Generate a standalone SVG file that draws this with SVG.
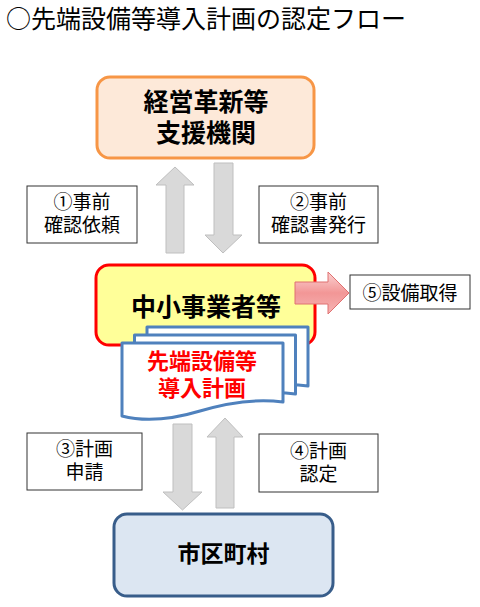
<svg xmlns="http://www.w3.org/2000/svg" width="480" height="607" viewBox="0 0 480 607">
<defs>
<style>
text{font-family:"Liberation Sans","Noto Sans CJK JP","Noto Sans CJK SC",sans-serif;text-anchor:middle}
.title{font-family:"Noto Sans CJK JP","Noto Sans CJK SC",sans-serif;font-size:25px;text-anchor:start;fill:#000}
.big{font-size:25px;font-weight:bold;fill:#000}
.lbl{font-size:19px;fill:#000}
.lbox{fill:#fff;stroke:#333;stroke-width:1}
.garrow{fill:#D9D9D9;stroke:#BFBFBF;stroke-width:1}
.doc{fill:#fff;stroke:#4F81BD;stroke-width:3;stroke-linejoin:round}
</style>
<linearGradient id="pink" x1="0" y1="0" x2="0" y2="1">
<stop offset="0" stop-color="#FBD3D3"/>
<stop offset="0.5" stop-color="#F29696"/>
<stop offset="1" stop-color="#F6B4B4"/>
</linearGradient>
<path id="docshape" d="M122,343 L283,343 L283,402 C260,399 230,402 200,411 C170,420 145,422 122,416 Z"/>
</defs>

<text class="title" x="6" y="28">○先端設備等導入計画の認定フロー</text>

<g id="connectors">
<polygon class="garrow" points="175,167 194,185 184,185 184,253 166,253 166,185 156,185"/>
<polygon class="garrow" points="214,163 233,163 233,235 242,235 223,253 205,235 214,235"/>
<polygon class="garrow" points="173,424 192,424 192,492 202,492 182.5,510 163,492 173,492"/>
<polygon class="garrow" points="225,418 243,437 234,437 234,508 216,508 216,437 207,437"/>
</g>

<g id="node-shien">
<rect x="97" y="77" width="217" height="81" rx="13" fill="#FDE9D9" stroke="#F79646" stroke-width="3"/>
<text class="big" x="206" y="111">経営革新等</text>
<text class="big" x="206" y="142">支援機関</text>
</g>

<g id="label-1">
<rect class="lbox" x="27" y="186" width="110" height="57"/>
<text class="lbl" x="82" y="209">①事前</text>
<text class="lbl" x="82" y="232">確認依頼</text>
</g>

<g id="label-2">
<rect class="lbox" x="259" y="186" width="119" height="57"/>
<text class="lbl" x="318.5" y="209">②事前</text>
<text class="lbl" x="318.5" y="232">確認書発行</text>
</g>

<g id="node-chusho">
<rect x="96" y="265" width="219" height="80" rx="13" fill="#FFFF99" stroke="#FF0000" stroke-width="3"/>
<text class="big" x="206" y="316">中小事業者等</text>
</g>

<g id="connector-5">
<polygon points="295,282 328,282 328,272 349,293 328,314 328,304 295,304" fill="url(#pink)" stroke="#E07070" stroke-width="1"/>
</g>

<g id="label-5">
<rect class="lbox" x="350" y="275" width="120" height="34"/>
<text class="lbl" x="410" y="300">⑤設備取得</text>
</g>

<g id="node-plan">
<use href="#docshape" class="doc" transform="translate(25,-16)"/>
<use href="#docshape" class="doc" transform="translate(12.5,-8)"/>
<use href="#docshape" class="doc"/>
<text x="202" y="369" style="font-size:22px;font-weight:bold;fill:#FF0000">先端設備等</text>
<text x="202" y="396" style="font-size:22px;font-weight:bold;fill:#FF0000">導入計画</text>
</g>

<g id="label-3">
<rect class="lbox" x="27" y="433" width="115" height="57"/>
<text class="lbl" x="84.5" y="456">③計画</text>
<text class="lbl" x="84.5" y="479">申請</text>
</g>

<g id="label-4">
<rect class="lbox" x="259" y="434" width="119" height="58"/>
<text class="lbl" x="318.5" y="458">④計画</text>
<text class="lbl" x="318.5" y="481">認定</text>
</g>

<g id="node-city">
<rect x="114" y="514" width="219" height="82" rx="13" fill="#DCE6F2" stroke="#385D8A" stroke-width="3"/>
<text x="223.5" y="562" style="font-size:23px;font-weight:bold;fill:#000">市区町村</text>
</g>
</svg>
